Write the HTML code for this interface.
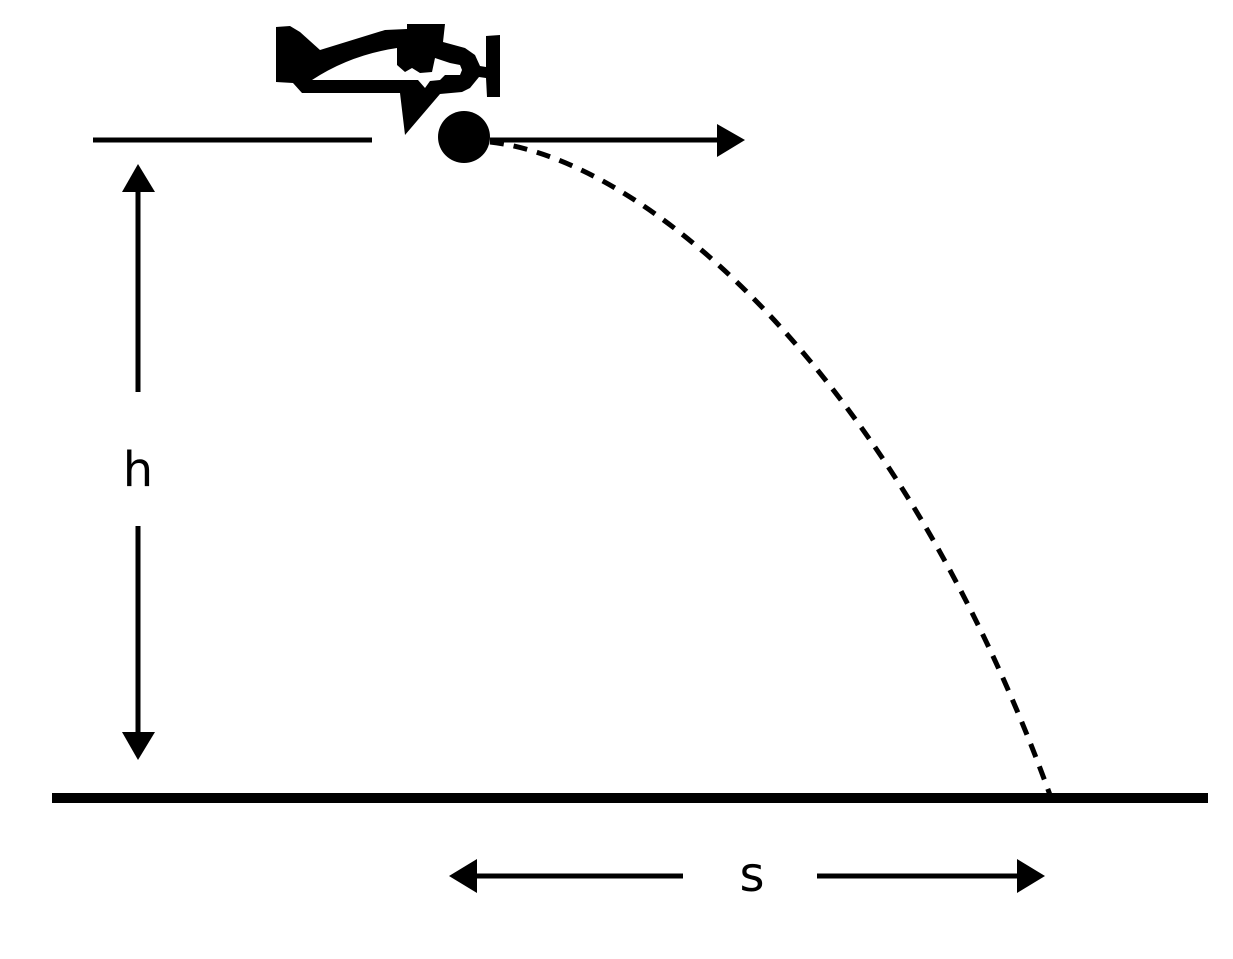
<!DOCTYPE html>
<html><head><style>html,body{margin:0;padding:0;background:#fff}</style></head>
<body>
<svg width="1233" height="954" viewBox="0 0 1233 954" xmlns="http://www.w3.org/2000/svg">
<rect width="1233" height="954" fill="#fff"/>
<line x1="93" y1="140" x2="372" y2="140" stroke="#000" stroke-width="5"/>
<line x1="490" y1="140" x2="720" y2="140" stroke="#000" stroke-width="5"/>
<polygon points="717,124 745,140 717,157" fill="#000"/>
<circle cx="464" cy="137" r="26" fill="#000"/>
<path d="M490,142 C650,160 900,380 1050,795" fill="none" stroke="#000" stroke-width="5" stroke-dasharray="14,10"/>
<line x1="52" y1="798" x2="1208" y2="798" stroke="#000" stroke-width="10"/>
<line x1="138" y1="190" x2="138" y2="392" stroke="#000" stroke-width="5"/>
<polygon points="122,192 138,164 155,192" fill="#000"/>
<line x1="138" y1="526" x2="138" y2="735" stroke="#000" stroke-width="5"/>
<polygon points="122,732 138,760 155,732" fill="#000"/>
<text x="138" y="486" font-family="DejaVu Sans, Liberation Sans, sans-serif" font-size="48" text-anchor="middle">h</text>
<line x1="475" y1="876" x2="683" y2="876" stroke="#000" stroke-width="5"/>
<polygon points="477,859 449,876 477,893" fill="#000"/>
<line x1="817" y1="876" x2="1020" y2="876" stroke="#000" stroke-width="5"/>
<polygon points="1017,859 1045,876 1017,893" fill="#000"/>
<text x="752" y="891" font-family="DejaVu Sans, Liberation Sans, sans-serif" font-size="48" text-anchor="middle">s</text>
<path d="M276,27 L290,26 L300,32 L320,50 L385,30 L407,29 L407,24 L445,24 L443,42 L465,48 L475,55 L480,66 L486,67 L486,36 L500,35 L500,97 L487,97 L486,78 L479,77 L470,88 L462,92 L440,94 L405,135 L400,93 L302,93 L293,83 L276,82 Z" fill="#000"/>
<path d="M312,80 Q350,55 397,48 L397,65 L405,72 L412,68 L420,73 L432,72 L435,58 L450,63 L460,65 L462,70 L460,75 L445,75 L440,80 L430,81 L425,88 L418,80 Z" fill="#fff"/>
</svg>
</body></html>
